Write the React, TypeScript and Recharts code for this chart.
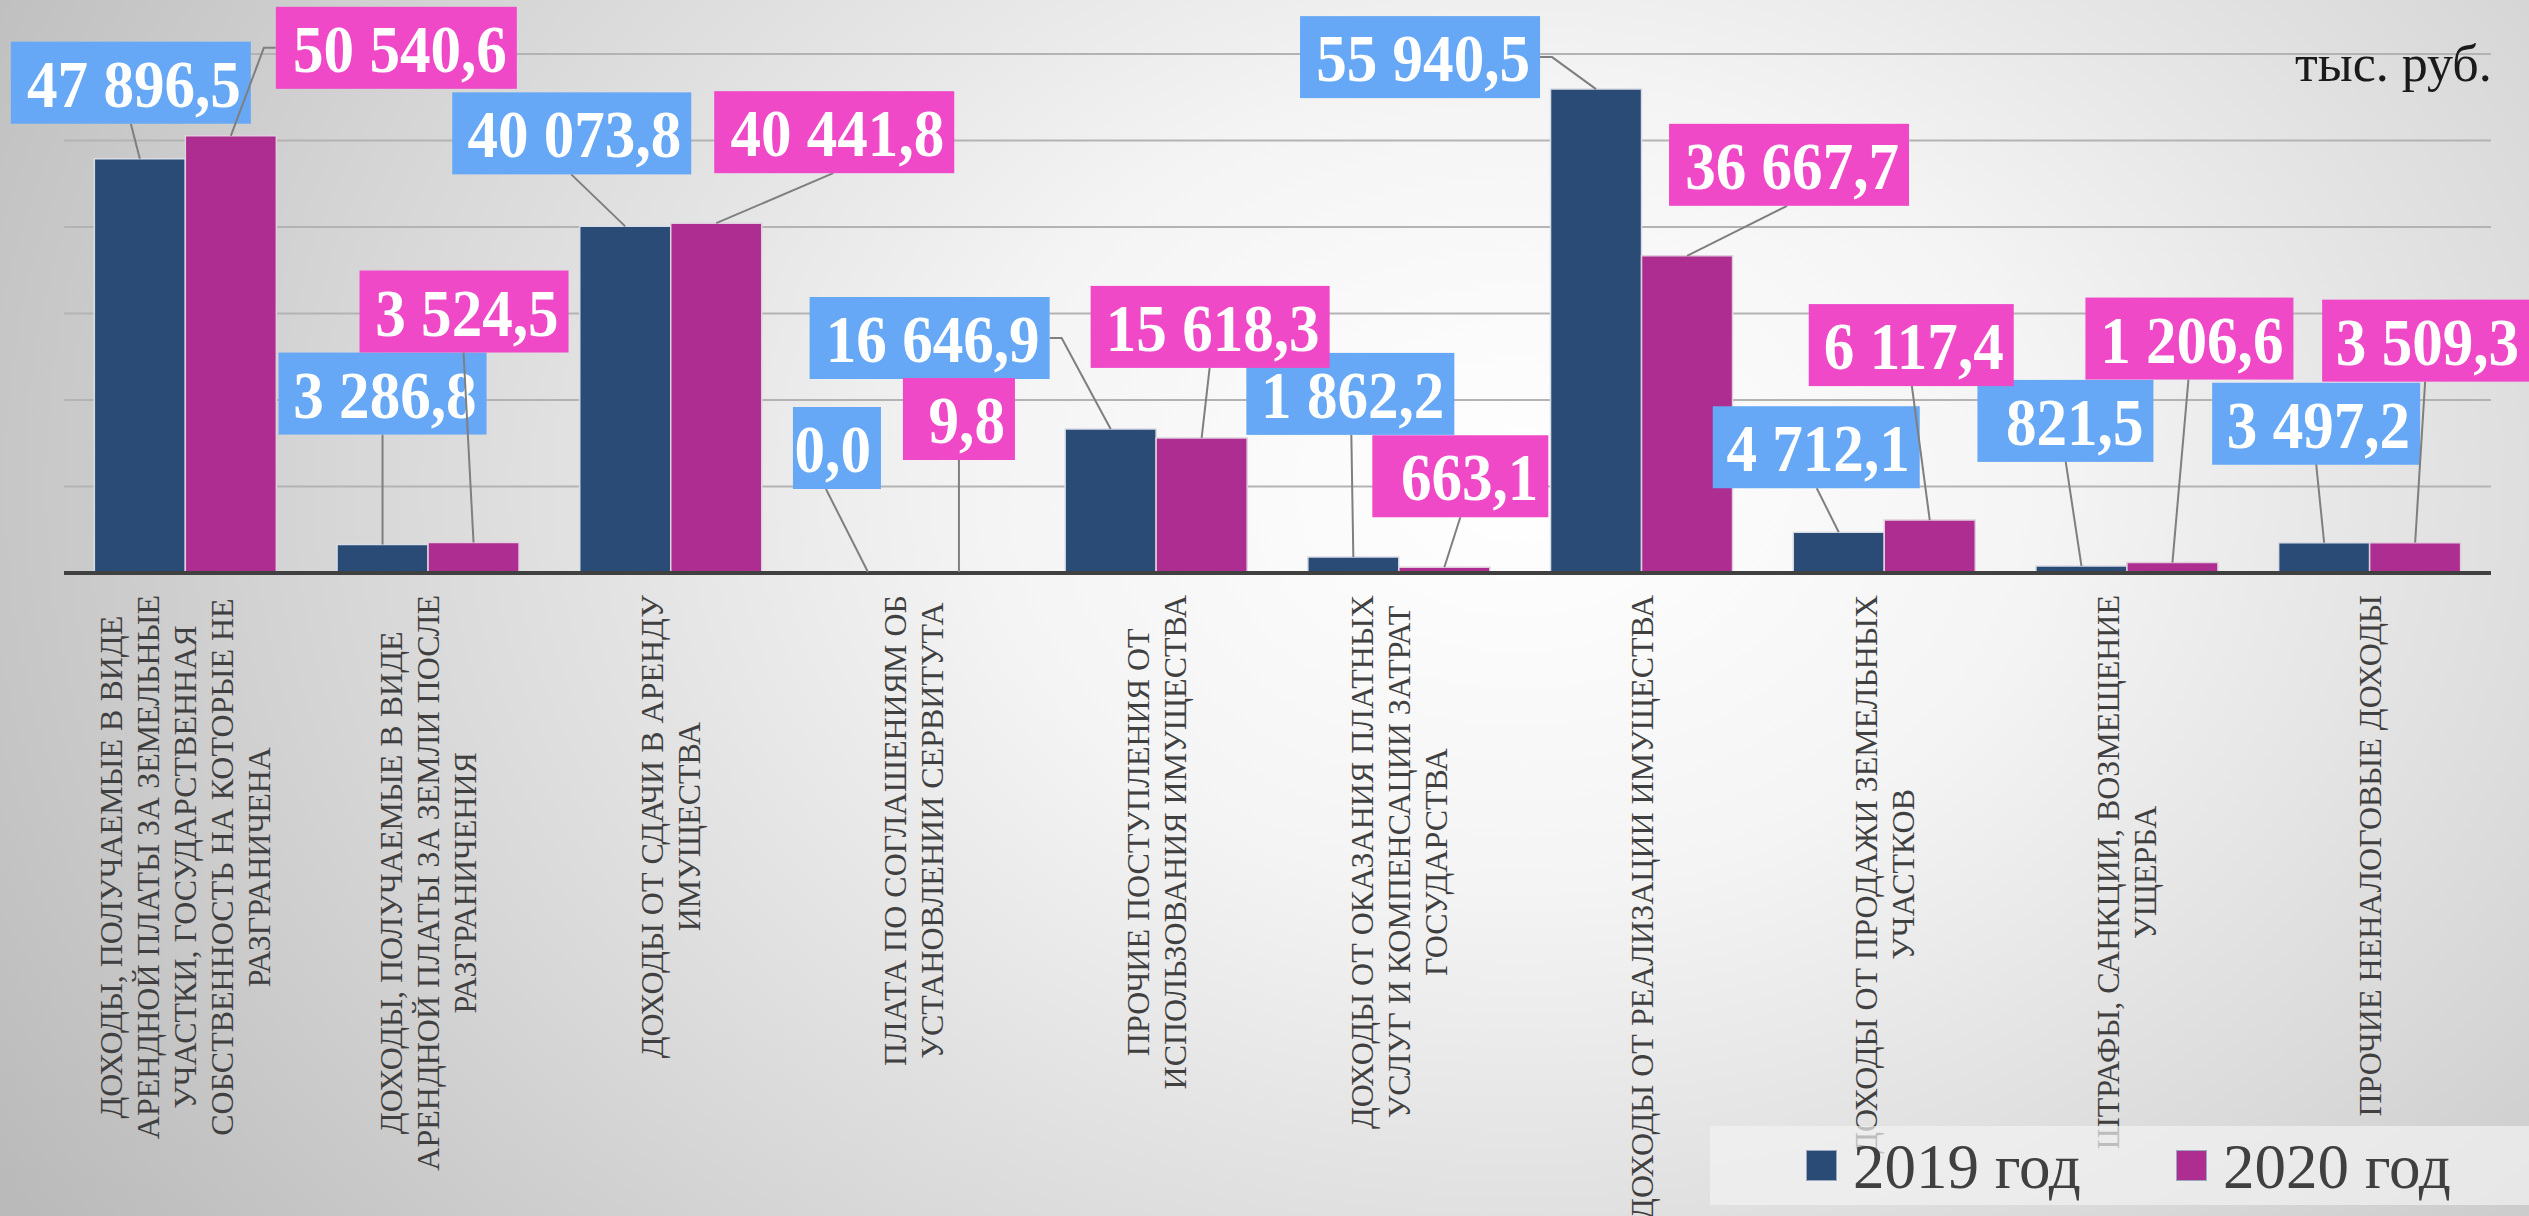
import { BarChart, Bar, XAxis, YAxis, CartesianGrid, LabelList, Legend } from "recharts";

// === categories (line breaks as on the slide) ===
const categories = [
  "ДОХОДЫ, ПОЛУЧАЕМЫЕ В ВИДЕ\nАРЕНДНОЙ ПЛАТЫ ЗА ЗЕМЕЛЬНЫЕ\nУЧАСТКИ, ГОСУДАРСТВЕННАЯ\nСОБСТВЕННОСТЬ НА КОТОРЫЕ НЕ\nРАЗГРАНИЧЕНА",
  "ДОХОДЫ, ПОЛУЧАЕМЫЕ В ВИДЕ\nАРЕНДНОЙ ПЛАТЫ ЗА ЗЕМЛИ ПОСЛЕ\nРАЗГРАНИЧЕНИЯ",
  "ДОХОДЫ ОТ СДАЧИ В АРЕНДУ\nИМУЩЕСТВА",
  "ПЛАТА ПО СОГЛАШЕНИЯМ ОБ\nУСТАНОВЛЕНИИ СЕРВИТУТА",
  "ПРОЧИЕ ПОСТУПЛЕНИЯ ОТ\nИСПОЛЬЗОВАНИЯ ИМУЩЕСТВА",
  "ДОХОДЫ ОТ ОКАЗАНИЯ ПЛАТНЫХ\nУСЛУГ И КОМПЕНСАЦИИ ЗАТРАТ\nГОСУДАРСТВА",
  "ДОХОДЫ ОТ РЕАЛИЗАЦИИ ИМУЩЕСТВА",
  "ДОХОДЫ ОТ ПРОДАЖИ ЗЕМЕЛЬНЫХ\nУЧАСТКОВ",
  "ШТРАФЫ, САНКЦИИ, ВОЗМЕЩЕНИЕ\nУЩЕРБА",
  "ПРОЧИЕ НЕНАЛОГОВЫЕ ДОХОДЫ",
];

// === values, тыс. руб. ===
const values2019 = [47896.5, 3286.8, 40073.8, 0.0, 16646.9, 1862.2, 55940.5, 4712.1, 821.5, 3497.2];
const values2020 = [50540.6, 3524.5, 40441.8, 9.8, 15618.3, 663.1, 36667.7, 6117.4, 1206.6, 3509.3];

const seriesNames = ["2019 год", "2020 год"];
const yTicks = [0, 10000, 20000, 30000, 40000, 50000, 60000];
const unitLabel = "тыс. руб.";

// label boxes, relative to the bar's top centre:
// [boxLeft, boxTop, boxWidth, leaderX, leaderY, elbowX?]
const labelPos2019 = [
  [-129, -117, 240, -9, -35],
  [-104, -192, 208, 0, -110],
  [-173, -134, 239, -54, -52],
  [-75, -165, 88, -42, -83],
  [-301, -132, 240, -61, -91, -49],
  [-107, -204, 208, -2, -122],
  [-296, -73, 240, -56, -32, -44],
  [-126, -126, 207, -22, -44],
  [-104, -186, 176, -16, -106],
  [-112, -160, 208, -8, -79],
];
const labelPos2020 = [
  [45, -129, 241, 45, -88, 33],
  [-114, -272, 209, -10, -190],
  [-2, -132, 240, 117, -50],
  [-56, -194, 112, 0, -113],
  [-111, -152, 239, 8, -70],
  [-72, -132, 176, 16, -50],
  [-18, -132, 240, 100, -50],
  [-121, -216, 205, -18, -135],
  [-87, -265, 208, 16, -183],
  [-93, -243, 207, 10, -161],
];

const COLOR_2019 = "#294b76";
const COLOR_2020 = "#ad2d91";
const BOX_2019 = "#66a8f5";
const BOX_2020 = "#ef49c8";

const chartData = categories.map((name, i) => ({
  name,
  v2019: values2019[i],
  v2020: values2020[i],
}));

function fmt(v: number) {
  const [int, dec] = Number(v).toFixed(1).split(".");
  return int.replace(/\B(?=(\d{3})+(?!\d))/g, " ") + "," + dec;
}

let measureCtx: CanvasRenderingContext2D | null = null;
function measure(text: string) {
  if (!measureCtx) {
    measureCtx = document.createElement("canvas").getContext("2d");
  }
  if (!measureCtx) return text.length * 20;
  measureCtx.font = "32px 'Liberation Serif'";
  return measureCtx.measureText(text).width;
}

function CategoryTick(props: any) {
  const { x, y, payload } = props;
  const lines = String(payload.value).split("\n");
  const longest = Math.max(...lines.map(measure));
  const n = lines.length;
  return (
    <g transform={`translate(${x},${y + 22}) rotate(-90)`}>
      {lines.map((line, i) => (
        <text
          key={i}
          x={-longest / 2}
          y={(i - (n - 1) / 2) * 37 + 11}
          textAnchor="middle"
          fontFamily="'Liberation Serif', serif"
          fontSize={32}
          fill="#404040"
        >
          {line}
        </text>
      ))}
    </g>
  );
}

function makeLabel(pos: number[][], values: number[], boxColor: string) {
  return (props: any) => {
    const { x, y, width, value } = props;
    let index = values.indexOf(Number(value));
    if (index < 0) index = props.index;
    const p = pos[index];
    if (!p) return null;
    const bx = Number(x) + Number(width) / 2;
    const by = Number(y);
    const [l, t, w, lx, ly, ex] = p;
    const left = bx + l;
    const top = by + t;
    const pts = [[bx + lx, by + ly]];
    if (ex !== undefined) pts.push([bx + ex, by + ly]);
    pts.push([bx, by]);
    return (
      <g>
        <polyline
          points={pts.map((q) => q.join(",")).join(" ")}
          fill="none"
          stroke="#7f7f7f"
          strokeWidth={2}
        />
        <rect x={left} y={top} width={w} height={82} fill={boxColor} />
        <text
          transform={`translate(${left + w - 10},${top + 65}) scale(0.94,1.04)`}
          textAnchor="end"
          fill="#ffffff"
          fontFamily="'Liberation Serif', serif"
          fontWeight="bold"
          fontSize={65}
        >
          {fmt(Number(value))}
        </text>
      </g>
    );
  };
}

function LegendContent() {
  const items = [
    { name: seriesNames[0], color: COLOR_2019, sq: 96, tx: 143 },
    { name: seriesNames[1], color: COLOR_2020, sq: 466, tx: 513 },
  ];
  return (
    <div style={{ position: "relative", width: "100%", height: "100%" }}>
      {items.map((it) => (
        <div key={it.name}>
          <div
            style={{
              position: "absolute",
              left: it.sq,
              top: 24,
              width: 29,
              height: 29,
              background: it.color,
              border: "1px solid #9aa9bd",
            }}
          />
          <div
            style={{
              position: "absolute",
              left: it.tx,
              top: 10,
              fontFamily: "'Liberation Serif', serif",
              fontSize: 63,
              lineHeight: "62px",
              color: "#404040",
              whiteSpace: "nowrap",
            }}
          >
            {it.name}
          </div>
        </div>
      ))}
    </div>
  );
}

export default function App() {
  return (
    <div
      style={{
        position: "absolute",
        left: 0,
        top: 0,
        width: 2529,
        height: 1216,
        overflow: "hidden",
        background:
          "radial-gradient(ellipse 70% 110% at 60% 40%, #ffffff 0%, #f4f4f4 30%, #d8d8d8 65%, #bababa 100%)",
      }}
    >
      <BarChart
        width={2529}
        height={1216}
        data={chartData}
        margin={{ top: 54, right: 38, bottom: 43, left: 64 }}
        barCategoryGap="12.5%"
        barGap={0}
      >
        <CartesianGrid vertical={false} stroke="#b3b3b3" strokeWidth={2} />
        <YAxis hide domain={[0, 60000]} ticks={yTicks} />
        <XAxis
          dataKey="name"
          height={600}
          interval={0}
          tickLine={false}
          tickSize={0}
          tickMargin={0}
          axisLine={{ stroke: "#404040", strokeWidth: 4 }}
          tick={<CategoryTick />}
        />
        <Legend
          layout="horizontal"
          verticalAlign="middle"
          align="center"
          content={<LegendContent />}
          wrapperStyle={{
            left: 1710,
            top: 1126,
            width: 819,
            height: 79,
            background: "rgba(242,242,242,0.7)",
          }}
        />
        <Bar dataKey="v2019" name={seriesNames[0]} fill={COLOR_2019} stroke="#d8dde5" strokeWidth={1.5} minPointSize={1} isAnimationActive={false}>
          <LabelList dataKey="v2019" content={makeLabel(labelPos2019, values2019, BOX_2019)} />
        </Bar>
        <Bar dataKey="v2020" name={seriesNames[1]} fill={COLOR_2020} stroke="#e0d0dc" strokeWidth={1.5} minPointSize={1} isAnimationActive={false}>
          <LabelList dataKey="v2020" content={makeLabel(labelPos2020, values2020, BOX_2020)} />
        </Bar>
      </BarChart>
      <div
        style={{
          position: "absolute",
          left: 2295,
          top: 38,
          fontFamily: "'Liberation Serif', serif",
          fontSize: 52,
          lineHeight: "52px",
          color: "#1a1a1a",
        }}
      >
        {unitLabel}
      </div>
    </div>
  );
}
